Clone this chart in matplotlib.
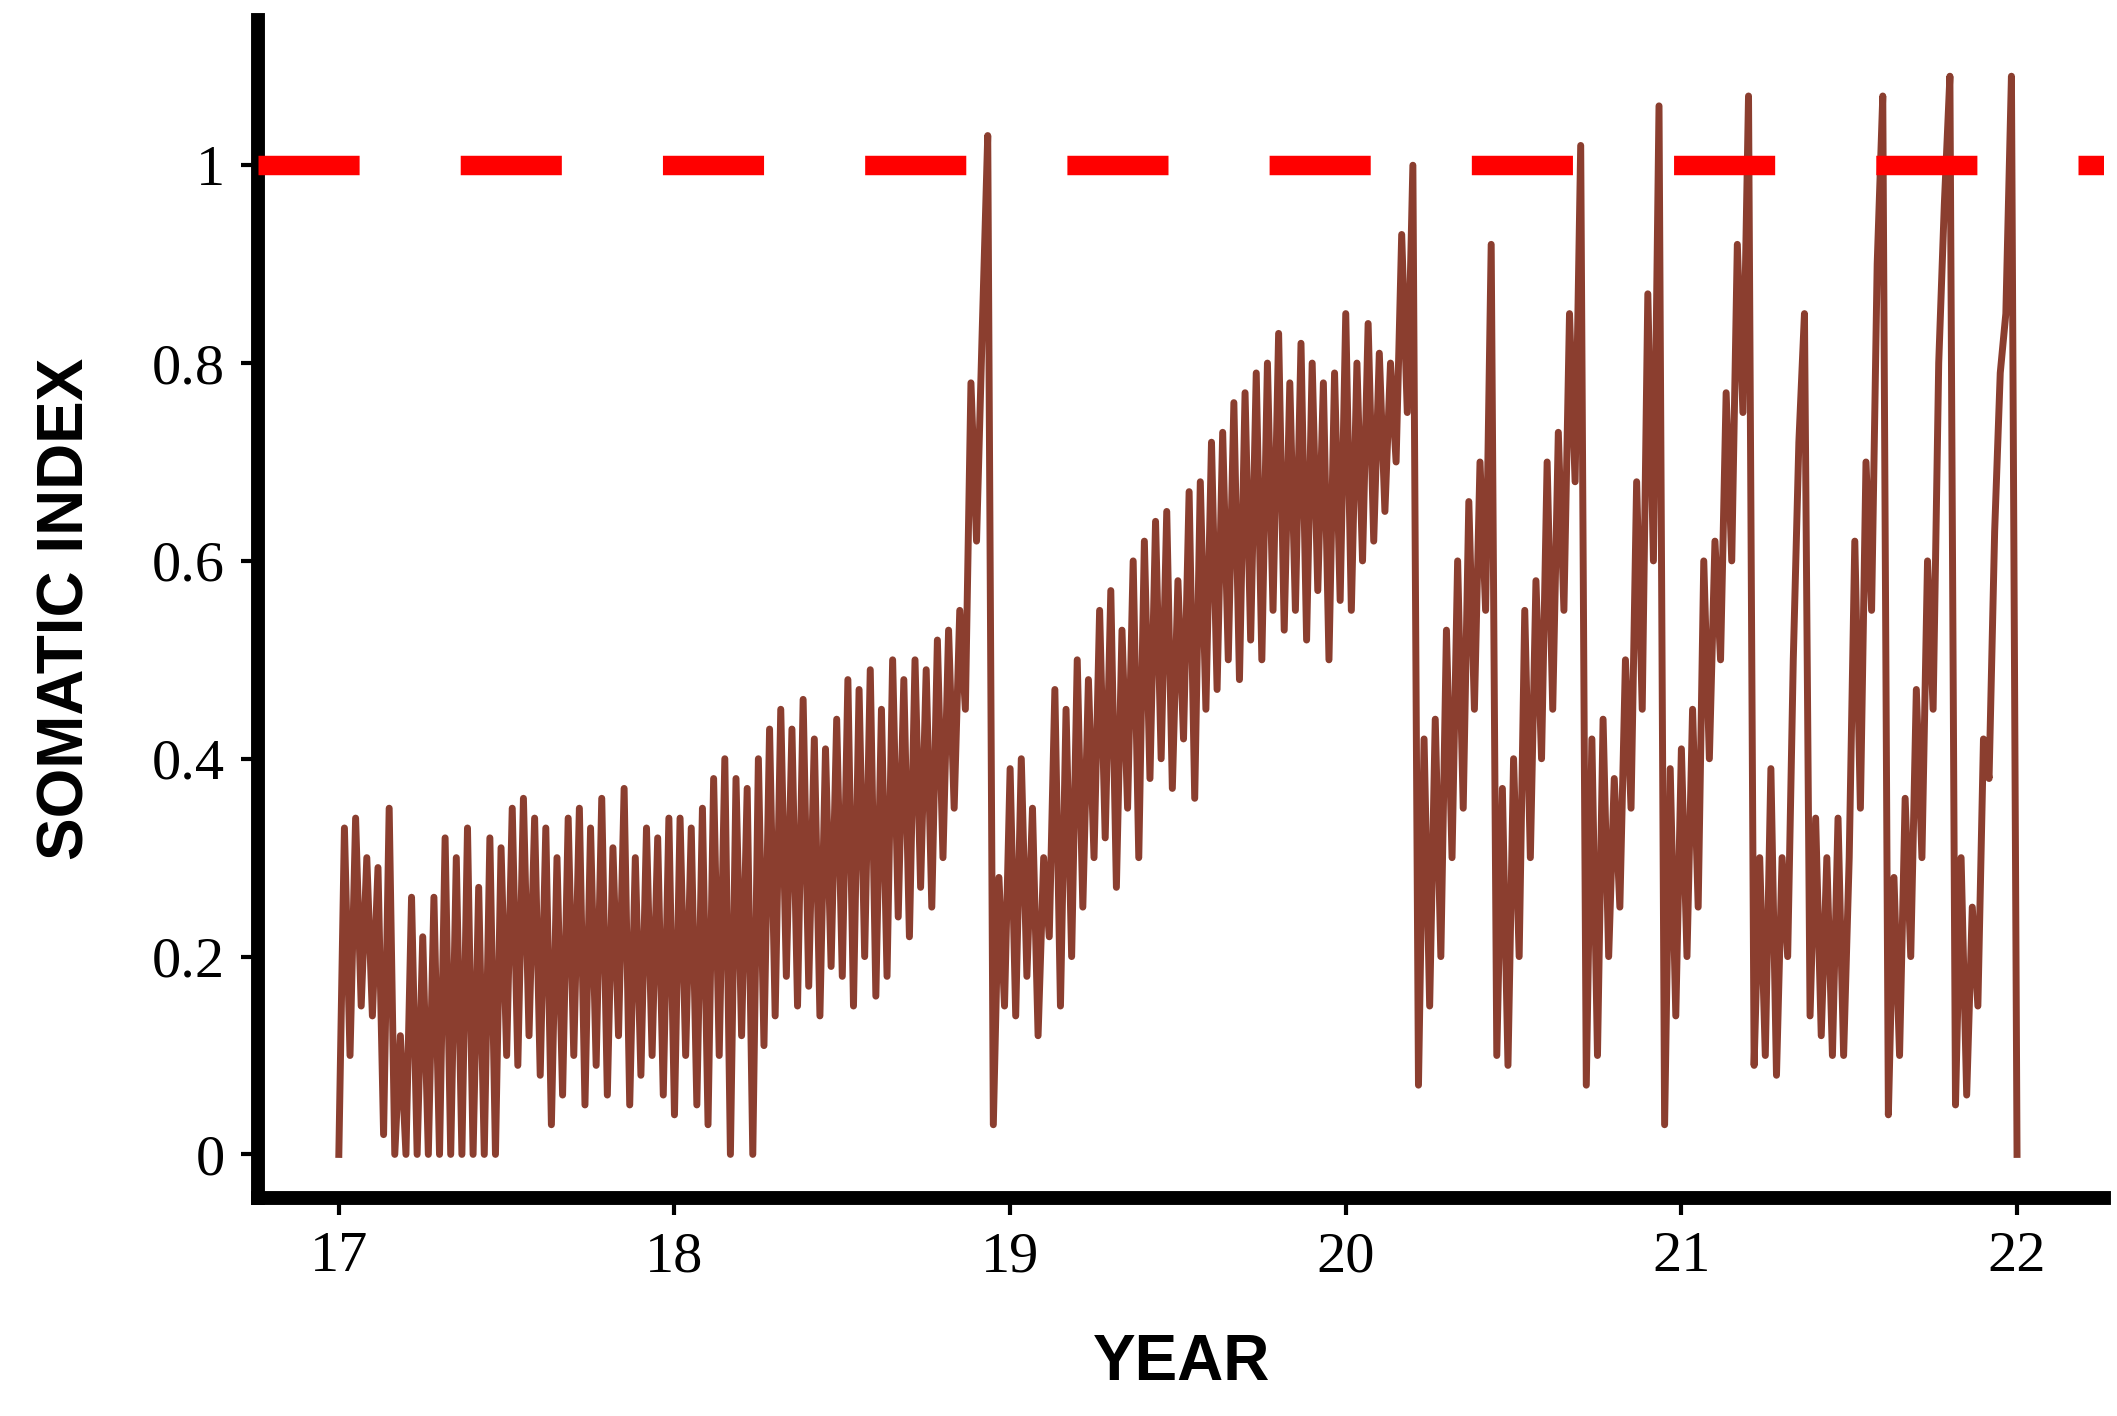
import numpy as np
import matplotlib
matplotlib.use("Agg")
import matplotlib.pyplot as plt

start_year = 17
steps_per_year = 60
somatic_index = [
 0, 0.33, 0.1, 0.34, 0.15, 0.3, 0.14, 0.29, 0.02, 0.35,
 0.0, 0.12, 0.0, 0.26, 0.0, 0.22, 0.0, 0.26, 0.0, 0.32,
 0.0, 0.3, 0.0, 0.33, 0.0, 0.27, 0.0, 0.32, 0.0, 0.31,
 0.1, 0.35, 0.09, 0.36, 0.12, 0.34, 0.08, 0.33, 0.03, 0.3,
 0.06, 0.34, 0.1, 0.35, 0.05, 0.33, 0.09, 0.36, 0.06, 0.31,
 0.12, 0.37, 0.05, 0.3, 0.08, 0.33, 0.1, 0.32, 0.06, 0.34,
 0.04, 0.34, 0.1, 0.33, 0.05, 0.35, 0.03, 0.38, 0.1, 0.4,
 0.0, 0.38, 0.12, 0.37, 0.0, 0.4, 0.11, 0.43, 0.14, 0.45,
 0.18, 0.43, 0.15, 0.46, 0.17, 0.42, 0.14, 0.41, 0.19, 0.44,
 0.18, 0.48, 0.15, 0.47, 0.2, 0.49, 0.16, 0.45, 0.18, 0.5,
 0.24, 0.48, 0.22, 0.5, 0.27, 0.49, 0.25, 0.52, 0.3, 0.53,
 0.35, 0.55, 0.45, 0.78, 0.62, 0.83, 1.03, 0.03, 0.28, 0.15,
 0.39, 0.14, 0.4, 0.18, 0.35, 0.12, 0.3, 0.22, 0.47, 0.15,
 0.45, 0.2, 0.5, 0.25, 0.48, 0.3, 0.55, 0.32, 0.57, 0.27,
 0.53, 0.35, 0.6, 0.3, 0.62, 0.38, 0.64, 0.4, 0.65, 0.37,
 0.58, 0.42, 0.67, 0.36, 0.68, 0.45, 0.72, 0.47, 0.73, 0.5,
 0.76, 0.48, 0.77, 0.52, 0.79, 0.5, 0.8, 0.55, 0.83, 0.53,
 0.78, 0.55, 0.82, 0.52, 0.8, 0.57, 0.78, 0.5, 0.79, 0.56,
 0.85, 0.55, 0.8, 0.6, 0.84, 0.62, 0.81, 0.65, 0.8, 0.7,
 0.93, 0.75, 1.0, 0.07, 0.42, 0.15, 0.44, 0.2, 0.53, 0.3,
 0.6, 0.35, 0.66, 0.45, 0.7, 0.55, 0.92, 0.1, 0.37, 0.09,
 0.4, 0.2, 0.55, 0.3, 0.58, 0.4, 0.7, 0.45, 0.73, 0.55,
 0.85, 0.68, 1.02, 0.07, 0.42, 0.1, 0.44, 0.2, 0.38, 0.25,
 0.5, 0.35, 0.68, 0.45, 0.87, 0.6, 1.06, 0.03, 0.39, 0.14,
 0.41, 0.2, 0.45, 0.25, 0.6, 0.4, 0.62, 0.5, 0.77, 0.6,
 0.92, 0.75, 1.07, 0.09, 0.3, 0.1, 0.39, 0.08, 0.3, 0.2,
 0.5, 0.72, 0.85, 0.14, 0.34, 0.12, 0.3, 0.1, 0.34, 0.1,
 0.3, 0.62, 0.35, 0.7, 0.55, 0.9, 1.07, 0.04, 0.28, 0.1,
 0.36, 0.2, 0.47, 0.3, 0.6, 0.45, 0.8, 0.96, 1.09, 0.05,
 0.3, 0.06, 0.25, 0.15, 0.42, 0.38, 0.63, 0.79, 0.85, 1.09,
 0.0,
]
threshold = 1.0
x_ticks = [17, 18, 19, 20, 21, 22]
y_ticks = [0, 0.2, 0.4, 0.6, 0.8, 1]
y_tick_labels = ["0", "0.2", "0.4", "0.6", "0.8", "1"]

years = start_year + np.arange(len(somatic_index)) / steps_per_year

fig = plt.figure(figsize=(21.17, 14.16), dpi=100)
ax = fig.add_axes([0.122, 0.154, 0.872, 0.832])
ax.plot(years, somatic_index, color="#8B3E2F", lw=5, zorder=2)
ax.axhline(threshold, color="#FF0000", lw=14, dashes=(5.2, 5.2), zorder=3)

ax.set_xlim(16.76, 22.26)
ax.set_ylim(-0.044, 1.147)
ax.set_xticks(x_ticks)
ax.set_yticks(y_ticks)
ax.set_yticklabels(y_tick_labels)
for s in ["top", "right"]:
    ax.spines[s].set_visible(False)
for s in ["left", "bottom"]:
    ax.spines[s].set_linewidth(10)
ax.tick_params(width=3, length=12, labelsize=42, pad=12)
for t in ax.get_xticklabels() + ax.get_yticklabels():
    t.set_family("Liberation Serif")
ax.set_xlabel("YEAR", fontsize=46, fontweight="bold", family="Liberation Sans", labelpad=36)
ax.set_ylabel("SOMATIC INDEX", fontsize=46, fontweight="bold", family="Liberation Sans", labelpad=40)

fig.savefig("out.png", dpi=100)
